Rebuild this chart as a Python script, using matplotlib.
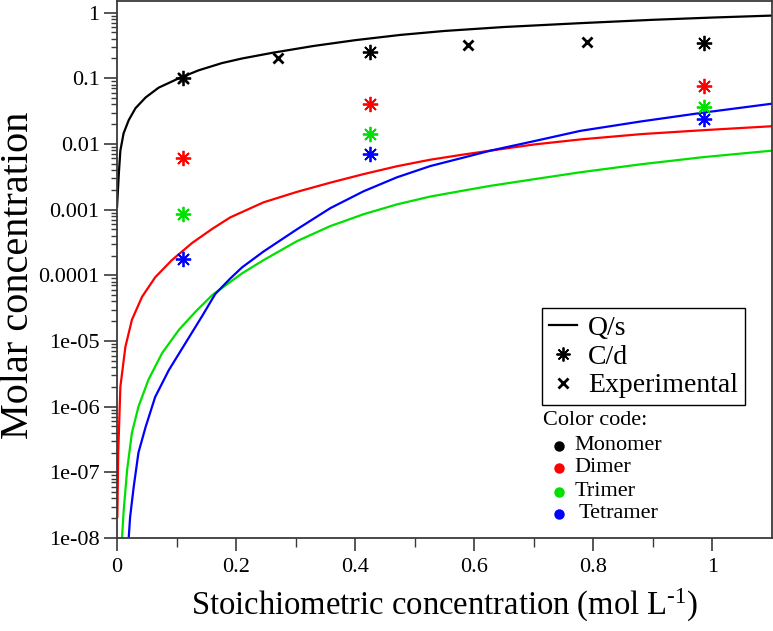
import matplotlib
matplotlib.use("Agg")
import matplotlib.pyplot as plt
from matplotlib.lines import Line2D
from matplotlib.ticker import FixedLocator, FixedFormatter, NullFormatter

plt.rcParams['font.family'] = ['Liberation Serif', 'DejaVu Serif']
plt.rcParams['mathtext.fontset'] = 'custom'
plt.rcParams['mathtext.rm'] = 'Liberation Serif'
plt.rcParams['mathtext.it'] = 'Liberation Serif:italic'
plt.rcParams['mathtext.bf'] = 'Liberation Serif:bold'

# ---- data ----
mono_x = [0.0, 0.003, 0.0056, 0.011, 0.0196, 0.031, 0.048, 0.07, 0.104, 0.137, 0.176, 0.21,
          0.262, 0.33, 0.4, 0.476, 0.55, 0.65, 0.778, 0.9, 1.0, 1.1]
mono_y = [1.1e-3, 3.5e-3, 7.9e-3, 1.45e-2, 2.3e-2, 3.5e-2, 5.1e-2, 7.2e-2, 0.1, 0.132, 0.17, 0.2,
          0.245, 0.31, 0.38, 0.457, 0.525, 0.603, 0.69, 0.776, 0.84, 0.9]

dim_x = [0.0005, 0.002, 0.0056, 0.014, 0.025, 0.042, 0.064, 0.092, 0.126, 0.16, 0.19, 0.246,
         0.302, 0.358, 0.414, 0.47, 0.526, 0.582, 0.627, 0.7, 0.778, 0.88, 0.985, 1.1]
dim_y = [2.1e-8, 2.0e-7, 2.0e-6, 8.1e-6, 2.1e-5, 4.7e-5, 9.3e-5, 1.7e-4, 3.1e-4, 5.1e-4,
         7.6e-4, 1.29e-3, 1.86e-3, 2.57e-3, 3.47e-3, 4.57e-3, 5.75e-3, 6.9e-3, 7.9e-3,
         9.8e-3, 1.17e-2, 1.41e-2, 1.62e-2, 1.86e-2]

tri_x = [0.0084, 0.011, 0.017, 0.025, 0.036, 0.053, 0.076, 0.104, 0.132, 0.16, 0.19, 0.21,
         0.246, 0.302, 0.358, 0.414, 0.47, 0.526, 0.582, 0.627, 0.7, 0.778, 0.88, 0.985, 1.1]
tri_y = [1.0e-8, 2.5e-8, 1.1e-7, 4.0e-7, 1.0e-6, 2.6e-6, 6.6e-6, 1.48e-5, 2.8e-5, 5.0e-5,
         7.9e-5, 1.07e-4, 1.7e-4, 3.3e-4, 5.6e-4, 8.5e-4, 1.2e-3, 1.58e-3, 1.95e-3, 2.3e-3,
         2.9e-3, 3.7e-3, 4.9e-3, 6.3e-3, 7.9e-3]

tet_x = [0.0196, 0.022, 0.028, 0.036, 0.048, 0.064, 0.087, 0.115, 0.143, 0.165, 0.19, 0.21,
         0.246, 0.302, 0.358, 0.414, 0.47, 0.526, 0.582, 0.627, 0.7, 0.778, 0.88, 0.985, 1.1]
tet_y = [1.0e-8, 2.1e-8, 6.0e-8, 2.0e-7, 4.9e-7, 1.4e-6, 3.6e-6, 9.3e-6, 2.4e-5, 5.2e-5,
         8.9e-5, 1.32e-4, 2.3e-4, 5.0e-4, 1.05e-3, 1.9e-3, 3.1e-3, 4.6e-3, 6.2e-3, 7.9e-3,
         1.1e-2, 1.58e-2, 2.2e-2, 3.0e-2, 4.1e-2]

cd_x = [0.11, 0.425, 0.985]
cd_mono = [0.1, 0.25, 0.34]
cd_dim = [0.006, 0.04, 0.075]
cd_tri = [8.5e-4, 0.014, 0.036]
cd_tet = [1.75e-4, 0.007, 0.024]

exp_x = [0.11, 0.27, 0.59, 0.79]
exp_y = [0.1, 0.205, 0.32, 0.36]

species = ['Monomer', 'Dimer', 'Trimer', 'Tetramer']
colors = ['#000000', '#ff0000', '#00e000', '#0000ff']

x_ticks = [0, 0.2, 0.4, 0.6, 0.8, 1.0]
x_ticklabels = ['0', '0.2', '0.4', '0.6', '0.8', '1']
y_ticks = [1e-8, 1e-7, 1e-6, 1e-5, 1e-4, 1e-3, 1e-2, 1e-1, 1]
y_ticklabels = ['1e-08', '1e-07', '1e-06', '1e-05', '0.0001', '0.001', '0.01', '0.1', '1']

# ---- figure ----
fig = plt.figure(figsize=(7.73, 6.31), dpi=100)
ax = fig.add_axes([0.1514, 0.1474, 0.8473, 0.8510])

lw = 1.6
curves = [(mono_x, mono_y), (dim_x, dim_y), (tri_x, tri_y), (tet_x, tet_y)]
for (cx, cy), c in zip(curves, colors):
    ax.plot(cx, cy, color=c, lw=lw, zorder=2)

star = (8, 2, 0)
for vals, c in zip([cd_mono, cd_dim, cd_tri, cd_tet], colors):
    ax.plot(cd_x, vals, linestyle='none', marker=star, markersize=11, mew=1.3,
            color=c, zorder=3)
ax.plot(exp_x, exp_y, linestyle='none', marker='x', markersize=7.5, mew=2.0,
        color='black', zorder=3)

ax.set_yscale('log')
ax.set_xlim(0, 1.1)
ax.set_ylim(1e-8, 1.5)

ax.xaxis.set_major_locator(FixedLocator(x_ticks))
ax.xaxis.set_major_formatter(FixedFormatter(x_ticklabels))
ax.xaxis.set_minor_locator(FixedLocator([0.1, 0.3, 0.5, 0.7, 0.9]))
ax.yaxis.set_major_locator(FixedLocator(y_ticks))
ax.yaxis.set_major_formatter(FixedFormatter(y_ticklabels))
ax.yaxis.set_minor_formatter(NullFormatter())

spine_col = '#3a3a3a'
for s in ax.spines.values():
    s.set_color(spine_col)
    s.set_linewidth(1.3)
ax.tick_params(which='major', direction='out', length=9.5, width=1.2, color=spine_col,
               labelsize=16, pad=3)
ax.tick_params(axis='x', which='major', pad=5)
ax.tick_params(which='minor', direction='out', length=4.5, width=1.0, color=spine_col)
ax.tick_params(axis='x', which='minor', length=6.5)

ax.set_xlabel('Stoichiometric concentration (mol L$^{\\text{-1}}$)', fontsize=23.5, va='center')
ax.xaxis.set_label_coords(0.5, -0.126)
ax.set_ylabel('Molar concentration', fontsize=29, va='center')
ax.yaxis.set_label_coords(-0.150, 0.489)

# legend box
handles = [Line2D([], [], color='black', lw=lw),
           Line2D([], [], color='black', marker=star, linestyle='none', markersize=10, mew=1.3),
           Line2D([], [], color='black', marker='x', linestyle='none', markersize=7, mew=2.0)]
leg = ax.legend(handles, ['Q/s', 'C/d', 'Experimental'], loc='upper left',
                bbox_to_anchor=(0.649, 0.4275), fontsize=20, frameon=True, fancybox=False,
                edgecolor='black', framealpha=1, handlelength=1.0, handletextpad=0.4,
                borderpad=0.25, labelspacing=0.12, borderaxespad=0)
leg.get_frame().set_linewidth(1.0)

# color code
ax.text(0.650, 0.218, 'Color code:', transform=ax.transAxes, fontsize=16,
        va='center', ha='left')
row_y = [0.1715, 0.1305, 0.0865, 0.0455]
for name, c, yy in zip(species, colors, row_y):
    ax.plot([0.6745], [yy], marker='o', markersize=6.5, color=c, transform=ax.transAxes,
            clip_on=False, linestyle='none')
    ax.text(0.698 if name != 'Tetramer' else 0.704, yy, name, transform=ax.transAxes,
            fontsize=16, va='center', ha='left')

fig.savefig('out.png', dpi=100)
